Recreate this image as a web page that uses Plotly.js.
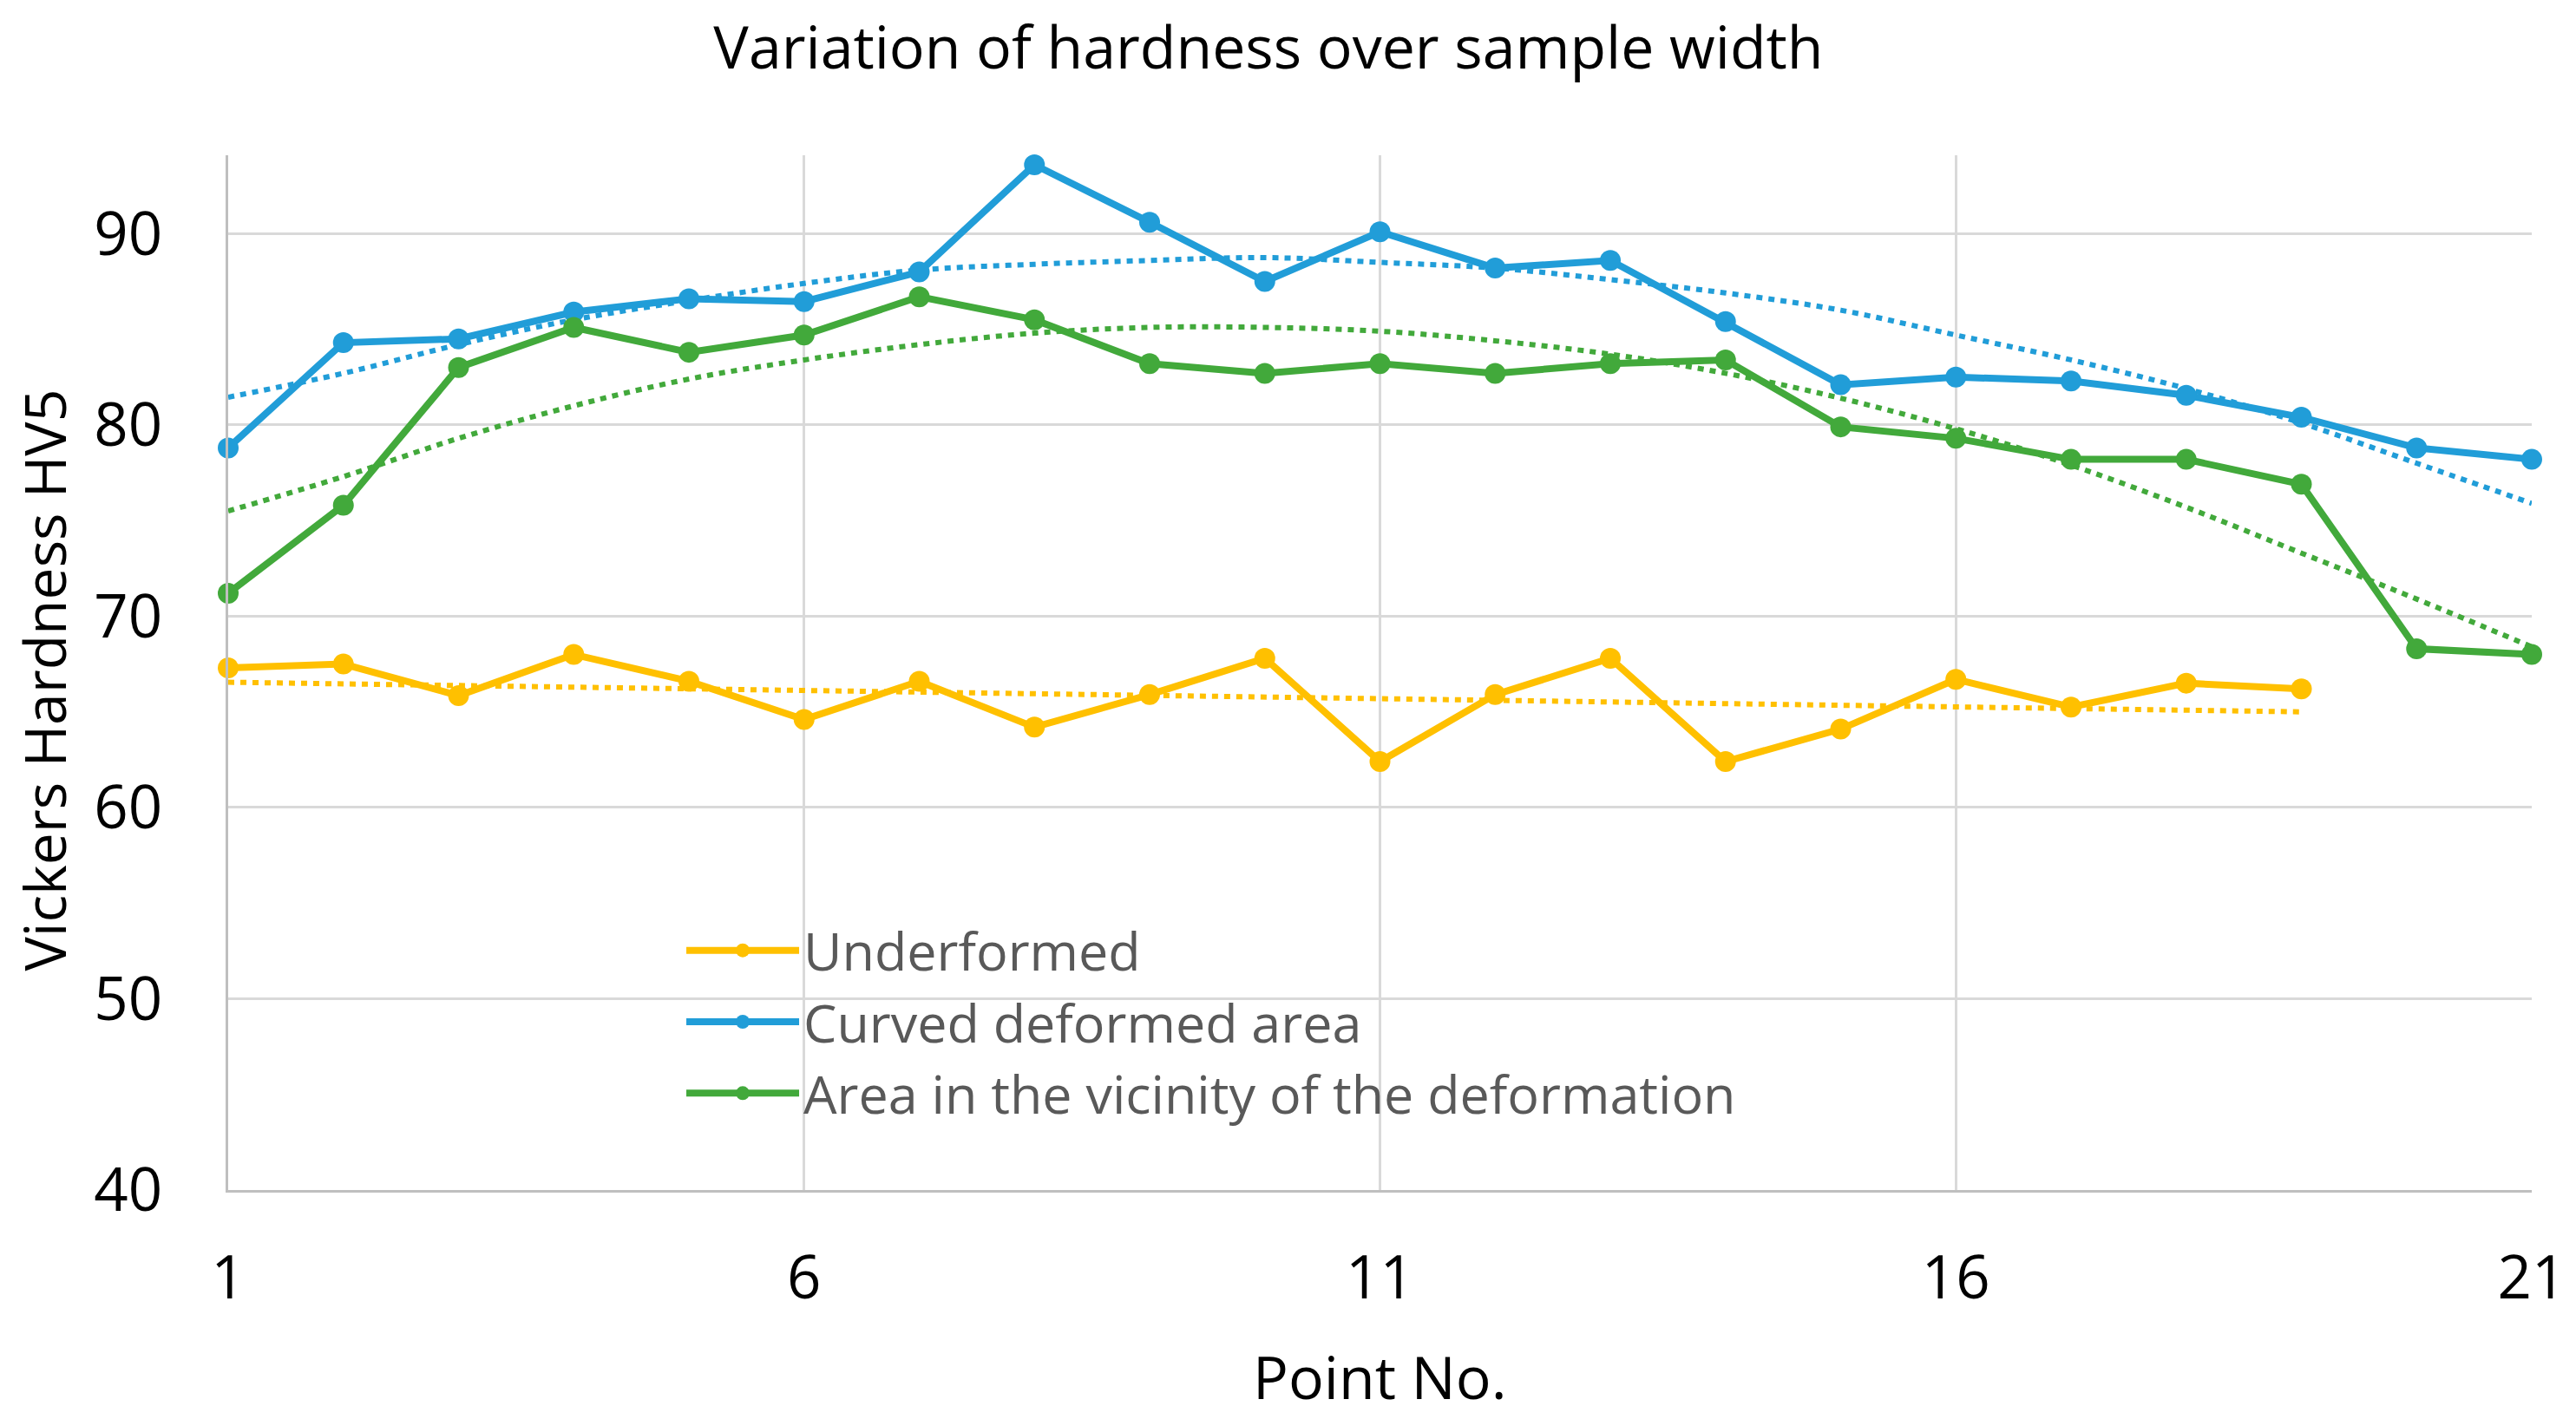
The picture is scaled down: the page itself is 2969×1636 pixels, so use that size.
<!DOCTYPE html>
<html>
<head>
<meta charset="utf-8">
<script src="https://cdn.plot.ly/plotly-3.0.1.min.js"></script>
<style>html,body{margin:0;padding:0;background:#fff;}#chart{width:2969px;height:1636px;}</style>
</head>
<body>
<div id="chart"></div>
<script>
// ---- data ----
var points = [1,2,3,4,5,6,7,8,9,10,11,12,13,14,15,16,17,18,19,20,21];
var pointsUnder = [1,2,3,4,5,6,7,8,9,10,11,12,13,14,15,16,17,18,19];
var underformed = [67.3,67.5,65.85,68.0,66.6,64.6,66.6,64.2,65.9,67.8,62.4,65.9,67.8,62.4,64.1,66.7,65.25,66.5,66.2];
var curved = [78.8,84.3,84.5,85.9,86.6,86.45,88.0,93.6,90.6,87.5,90.1,88.2,88.6,85.4,82.1,82.5,82.3,81.55,80.4,78.8,78.2];
var vicinity = [71.2,75.8,83.0,85.1,83.8,84.7,86.7,85.5,83.2,82.7,83.2,82.7,83.2,83.4,79.9,79.3,78.2,78.2,76.9,68.3,68.0];
// trendlines (as drawn in the reference)
var trendUnderX = [1,19];
var trendUnder = [66.55,65.0];
var trendCurved = [81.45,82.7,84.2,85.5,86.5,87.4,88.1,88.4,88.6,88.75,88.5,88.2,87.6,86.9,86.0,84.7,83.4,81.9,80.1,78.0,75.9];
var trendVicinity = [75.5,77.3,79.3,81.0,82.4,83.4,84.2,84.8,85.1,85.1,84.9,84.4,83.7,82.7,81.4,79.8,77.9,75.7,73.3,70.9,68.4];
var seriesNames = ['Underformed','Curved deformed area','Area in the vicinity of the deformation'];
var xTicks = [1,6,11,16,21];
var yTicks = [40,50,60,70,80,90];
var chartTitle = 'Variation of hardness over sample width';
var xTitle = 'Point No.';
var yTitle = 'Vickers Hardness HV5';

var cYellow = '#FFC000', cBlue = '#219DD8', cGreen = '#42A93B';
var FONT = 'Open Sans, Noto Sans, sans-serif';

function mainTrace(x, y, name, color){
  return {x:x, y:y, name:name, type:'scatter', mode:'lines+markers', cliponaxis:false,
    line:{color:color, width:8}, marker:{color:color, size:24, symbol:'circle'}};
}
function trendTrace(x, y, color, spline){
  return {x:x, y:y, type:'scatter', mode:'lines', showlegend:false, hoverinfo:'skip', cliponaxis:false,
    line:{color:color, width:6, dash:'7px,7px', shape: spline ? 'spline' : 'linear', smoothing:1}};
}

var data = [
  trendTrace(trendUnderX, trendUnder, cYellow, false),
  trendTrace(points, trendCurved, cBlue, true),
  trendTrace(points, trendVicinity, cGreen, true),
  mainTrace(pointsUnder, underformed, seriesNames[0], cYellow),
  mainTrace(points, curved, seriesNames[1], cBlue),
  mainTrace(points, vicinity, seriesNames[2], cGreen)
];

var layout = {
  width:2969, height:1636,
  paper_bgcolor:'#ffffff', plot_bgcolor:'#ffffff',
  margin:{l:263, r:51, t:179, b:264, pad:0},
  font:{family:FONT, color:'#000000'},
  title:{text:chartTitle, font:{family:FONT, size:68, color:'#000000'},
    x:0.4924, xref:'container', xanchor:'center', y:0.9664, yref:'container', yanchor:'middle'},
  xaxis:{range:[1,21], tickvals:xTicks, ticktext:xTicks.map(String), showgrid:true, gridcolor:'#D9D9D9', gridwidth:3,
    showline:true, linecolor:'#BFBFBF', linewidth:3, zeroline:false, ticks:'', ticklabelstandoff:39,
    tickfont:{family:FONT, size:69, color:'#000000'}, automargin:false},
  yaxis:{range:[40,94.1], tickvals:yTicks, ticktext:yTicks.map(String), showgrid:true, gridcolor:'#D9D9D9', gridwidth:3,
    showline:true, linecolor:'#BFBFBF', linewidth:3, zeroline:false, ticks:'', ticklabelstandoff:59,
    tickfont:{family:FONT, size:69, color:'#000000'}, automargin:false},
  annotations:[
    {text:xTitle, xref:'paper', yref:'paper', x:0.5, y:-0.1802, xanchor:'center', yanchor:'middle',
     showarrow:false, font:{family:FONT, size:68, color:'#000000'}},
    {text:yTitle, xref:'paper', yref:'paper', x:-0.0802, y:0.4925, xanchor:'center', yanchor:'middle',
     textangle:-90, showarrow:false, borderpad:0, font:{family:FONT, size:66, color:'#000000'}}
  ],
  showlegend:true,
  legend:{x:0.1970, xanchor:'left', xref:'paper', y:0.2703, yanchor:'top', yref:'paper',
    bgcolor:'rgba(0,0,0,0)', borderwidth:0, itemwidth:130, traceorder:'normal',
    font:{family:FONT, size:61, color:'#595959'}},
  shapes:[{type:'rect', xref:'paper', yref:'paper', x0:0.01507, x1:0.9032, y0:0.0587, y1:0.264,
    fillcolor:'#ffffff', line:{width:0}, layer:'between'}]
};

Plotly.newPlot('chart', data, layout, {staticPlot:true, displayModeBar:false});
</script>
</body>
</html>
